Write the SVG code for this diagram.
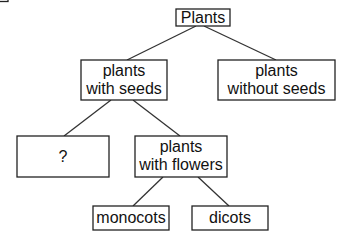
<svg xmlns="http://www.w3.org/2000/svg" width="363" height="241" viewBox="0 0 363 241">
<style>
.box{fill:#fff;stroke:#222;stroke-width:1.3}
.t{font-family:"Liberation Sans",Arial,sans-serif;font-size:16px;fill:#111;text-anchor:middle}
.e{stroke:#333;stroke-width:1.3;fill:none}
</style>
<rect x="0" y="0" width="363" height="241" fill="#fff"/>
<rect class="box" x="-5" y="-5" width="13" height="6.5"/>
<g id="connectors">
<line class="e" x1="196" y1="26" x2="127" y2="60"/>
<line class="e" x1="204" y1="26" x2="276" y2="60"/>
<line class="e" x1="111" y1="100" x2="64" y2="136"/>
<line class="e" x1="133" y1="100" x2="180" y2="136"/>
<line class="e" x1="163" y1="177" x2="133" y2="206"/>
<line class="e" x1="198" y1="177" x2="229" y2="206"/>
</g>
<g id="plants">
<rect class="box" x="176" y="9" width="54" height="17"/>
<text class="t" x="203" y="23">Plants</text>
</g>
<g id="with-seeds">
<rect class="box" x="81" y="60" width="86" height="40"/>
<text class="t" x="124" y="76">plants</text>
<text class="t" x="124" y="94">with seeds</text>
</g>
<g id="without-seeds">
<rect class="box" x="218" y="60" width="117" height="40"/>
<text class="t" x="276.5" y="76">plants</text>
<text class="t" x="276.5" y="94">without seeds</text>
</g>
<g id="unknown">
<rect class="box" x="17" y="136" width="92" height="41"/>
<text class="t" x="63" y="162">?</text>
</g>
<g id="with-flowers">
<rect class="box" x="135" y="136" width="92" height="41"/>
<text class="t" x="181" y="152">plants</text>
<text class="t" x="181" y="170">with flowers</text>
</g>
<g id="monocots">
<rect class="box" x="93" y="206" width="76" height="24"/>
<text class="t" x="131" y="223">monocots</text>
</g>
<g id="dicots">
<rect class="box" x="192" y="206" width="76" height="24"/>
<text class="t" x="230" y="223">dicots</text>
</g>
</svg>
